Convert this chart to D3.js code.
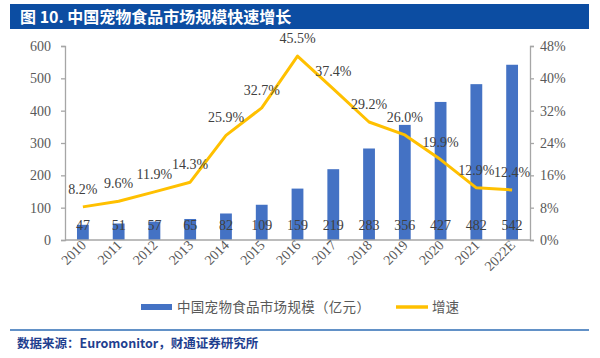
<!DOCTYPE html>
<html><head><meta charset="utf-8">
<script src="https://cdn.jsdelivr.net/npm/d3@7"></script>
<style>body{margin:0;background:#fff}svg{display:block}</style>
</head><body>
<svg id="c" width="600" height="358"></svg>
<script>
const categories = ["2010","2011","2012","2013","2014","2015","2016","2017","2018","2019","2020","2021","2022E"];
const marketSize = [47,51,57,65,82,109,159,219,283,356,427,482,542];
const growth = [8.2,9.6,11.9,14.3,25.9,32.7,45.5,37.4,29.2,26.0,19.9,12.9,12.4];
const leftTicks = [0,100,200,300,400,500,600];
const rightTicks = [0,8,16,24,32,40,48];
const title = "图 10. 中国宠物食品市场规模快速增长";
const source = "数据来源：Euromonitor，财通证券研究所";
const legendBar = "中国宠物食品市场规模（亿元）";
const legendLine = "增速";

const svg = d3.select("#c");
const serif = "'Liberation Serif','DejaVu Serif',serif";
const cjk = "'Noto Sans CJK SC','Noto Sans',sans-serif";

// title bar
svg.append("rect").attr("x",10).attr("y",4).attr("width",579).attr("height",25).attr("fill","#0C4DA2");
svg.append("text").attr("x",20).attr("y",22.5).attr("fill","#fff").attr("font-family",cjk)
  .attr("font-weight","bold").attr("font-size",16).text(title);

const L=65, R=530, T=46, B=240;
const x = d3.scaleBand().domain(categories).range([L,R]).paddingInner(0.67).paddingOuter(0.335);
const y = d3.scaleLinear().domain([0,600]).range([B,T]);
const y2 = d3.scaleLinear().domain([0,48]).range([B,T]);

// bars
svg.append("g").selectAll("rect").data(marketSize).join("rect")
  .attr("x",(d,i)=>x(categories[i])).attr("width",x.bandwidth())
  .attr("y",d=>y(d)).attr("height",d=>B-y(d)).attr("fill","#4472C4");

// axes
const axL = svg.append("g").attr("transform",`translate(${L},0)`)
  .call(d3.axisLeft(y).tickValues(leftTicks).tickSize(4).tickPadding(10));
const axR = svg.append("g").attr("transform",`translate(${R},0)`)
  .call(d3.axisRight(y2).tickValues(rightTicks).tickSize(4).tickPadding(6).tickFormat(d=>d+"%"));
const axB = svg.append("g").attr("transform",`translate(0,${B})`)
  .call(d3.axisBottom(x).tickSize(0).tickPadding(6));
[axL,axR,axB].forEach(a=>{
  a.select(".domain").attr("stroke","#A6A6A6").attr("stroke-width",1.3);
  a.selectAll(".tick line").attr("stroke","#A6A6A6").attr("stroke-width",1.3);
  a.selectAll("text").attr("font-family",serif).attr("font-size",14).attr("fill","#595959");
});
axB.select(".domain").attr("d",`M${L},0H${R}`);
axB.selectAll(".tick text").attr("text-anchor","end").attr("dy",null)
  .attr("transform","translate(4,6) rotate(-45)").attr("y",0).attr("x",0);

// bar value labels
svg.append("g").selectAll("text").data(marketSize).join("text")
  .attr("x",(d,i)=>x(categories[i])+x.bandwidth()/2).attr("y",230)
  .attr("text-anchor","middle").attr("font-family",serif).attr("font-size",14)
  .attr("fill","#404040").text(d=>d);

// line
const cx = i=>x(categories[i])+x.bandwidth()/2;
const line = d3.line().x((d,i)=>cx(i)).y(d=>y2(d));
svg.append("path").datum(growth).attr("d",line).attr("fill","none")
  .attr("stroke","#FFC000").attr("stroke-width",3).attr("stroke-linejoin","round");

svg.append("g").selectAll("text").data(growth).join("text")
  .attr("x",(d,i)=>cx(i)).attr("y",d=>y2(d)-13)
  .attr("text-anchor","middle").attr("font-family",serif).attr("font-size",14)
  .attr("fill","#404040").text(d=>d.toFixed(1)+"%");

// legend
svg.append("rect").attr("x",141).attr("y",304).attr("width",31).attr("height",6).attr("fill","#4472C4");
svg.append("text").attr("x",177).attr("y",312).attr("font-family",cjk).attr("font-size",13.5)
  .attr("fill","#595959").attr("letter-spacing",0.3).text(legendBar);
svg.append("line").attr("x1",396).attr("x2",428).attr("y1",307).attr("y2",307)
  .attr("stroke","#FFC000").attr("stroke-width",3.5);
svg.append("text").attr("x",432).attr("y",312).attr("font-family",cjk).attr("font-size",13.5)
  .attr("fill","#595959").text(legendLine);

// separator and source
svg.append("line").attr("x1",10).attr("x2",589).attr("y1",330).attr("y2",330)
  .attr("stroke","#2E6DB4").attr("stroke-width",1.5);
svg.append("text").attr("x",17).attr("y",348).attr("font-family",cjk).attr("font-weight","bold")
  .attr("font-size",12.5).attr("fill","#1F3F8F").text(source);
</script>
</body></html>
